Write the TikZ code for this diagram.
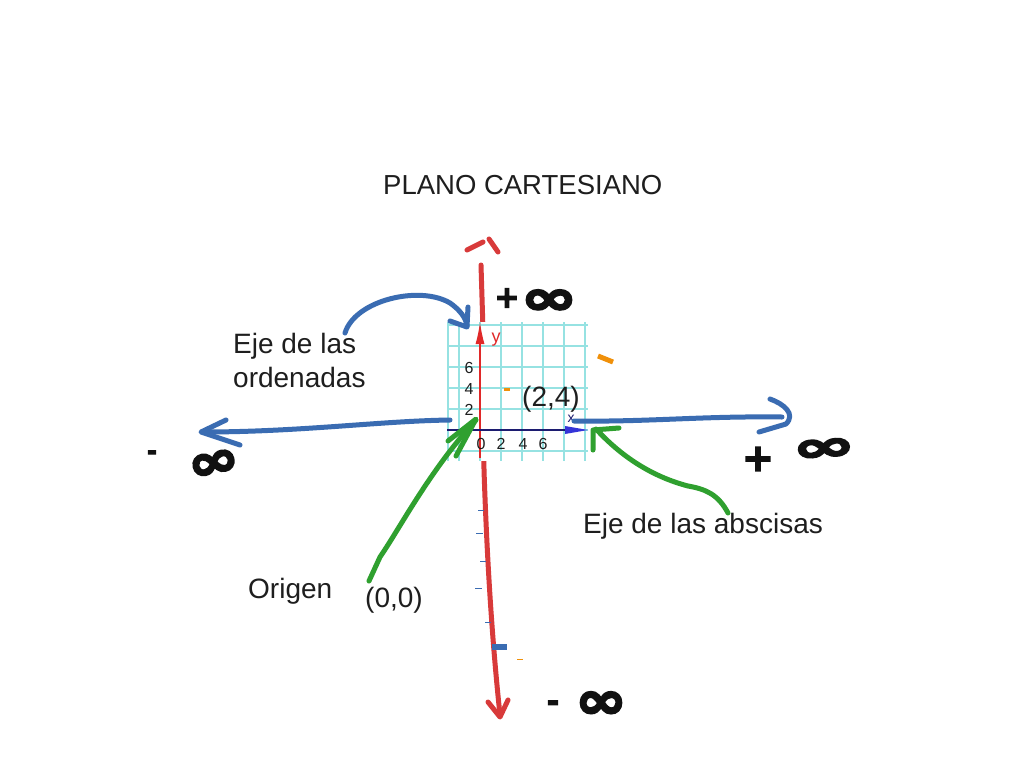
\documentclass[tikz,border=0pt]{standalone}
\usepackage{fontspec}
\setmainfont{Liberation Sans}
\newfontfamily\djv[FakeBold=4]{DejaVu Sans Bold}
\usetikzlibrary{arrows.meta}
\definecolor{penred}{HTML}{D83A3A}
\definecolor{penblue}{HTML}{3A6CB2}
\definecolor{pengreen}{HTML}{2FA02F}
\definecolor{penorange}{HTML}{F0900A}
\definecolor{gridcyan}{HTML}{96E2E2}
\definecolor{axred}{HTML}{E02828}
\definecolor{axnavy}{HTML}{1C1C70}
\definecolor{axblue}{HTML}{3434D8}
\definecolor{txt}{HTML}{1E1E1E}
\definecolor{ink}{HTML}{111111}
\tikzset{
  hand/.style={line width=5pt, line cap=round, line join=round},
  redpen/.style={hand, draw=penred},
  bluepen/.style={hand, draw=penblue},
  greenpen/.style={hand, draw=pengreen},
  label/.style={font=\fontsize{28}{31}\selectfont, text=txt, inner sep=0pt, anchor=base west},
  tick/.style={font=\fontsize{16}{18}\selectfont, text=txt, inner sep=0pt},
  inf/.style={font=\djv\fontsize{40}{42}\selectfont, text=ink, inner sep=0pt},
  sgn/.style={font=\djv\fontsize{30}{32}\selectfont, text=ink, inner sep=0pt},
}
\begin{document}
\begin{tikzpicture}[x=1pt,y=-1pt]
\useasboundingbox[fill=white] (0,0) rectangle (1024,768);

% title
\node[label, font=\fontsize{27.5}{30}\selectfont] (title) at (383,194) {PLANO CARTESIANO};

% main red vertical axis
\draw[redpen] (481,265) -- (483,330) -- (484,470) .. controls (487,560) and (492,640) .. (500,715);
\draw[redpen] (488,702) -- (500,717) -- (508,700);
\draw[redpen] (467,250) -- (483,242);
\draw[redpen] (489,239) -- (498,252);

% grid picture
\fill[white] (447,322) rectangle (588,461);
\foreach \gx in {448,459,480,501,522,543,564,585}
  \draw[gridcyan, line width=1.2pt] (\gx,322) -- (\gx,461);
\foreach \gy in {325,346,367,388,409,430,451}
  \draw[gridcyan, line width=1.2pt] (447,\gy) -- (588,\gy);
\coordinate (ybot) at (480,458);
\coordinate (ytop) at (480,322);
\draw[axred, line width=1.4pt, -{Latex[length=22pt,width=9pt]}] (ybot) -- (ytop);
\node[tick, text=axred, font=\fontsize{18}{18}\selectfont] (ylab) at (496,340) {y};
\coordinate (xl) at (447,430);
\coordinate (xr) at (588,430);
\draw[axnavy, line width=1.2pt] (xl) -- (572,430);
\fill[axblue] (565,426) -- (588,430) -- (565,434) -- cycle;
\node[tick, text=axnavy, font=\fontsize{14}{15}\selectfont] (xlab) at (571,419) {x};
\node[tick] (y6) at (469,368) {6};
\node[tick] (y4) at (469,389) {4};
\node[tick] (y2) at (469,410) {2};
\node[tick] (x0) at (481,444) {0};
\node[tick] (x2) at (501,444) {2};
\node[tick] (x4) at (523,444) {4};
\node[tick] (x6) at (543,444) {6};
\draw[penorange, line width=3pt] (504,389) -- (510,389);

% labels
\node[label] (ord1) at (233,353) {Eje de las};
\node[label] (ord2) at (233,387) {ordenadas};
\node[label] (pt) at (522,406) {(2,4)};
\node[label] (abs) at (583,533) {Eje de las abscisas};
\node[label] (orig) at (248,598) {Origen};
\node[label] (zero) at (365,607) {(0,0)};

% blue arrows
\draw[bluepen] (345,333) .. controls (355,300) and (420,285) .. (450,303) .. controls (460,310) and (466,318) .. (467,326);
\draw[bluepen] (450,321) -- (467,327) -- (468,307);
\draw[bluepen] (450,420) .. controls (380,421) and (300,432) .. (203,432);
\draw[bluepen] (226,420) -- (201,432) -- (240,445);
\draw[bluepen] (574,421) .. controls (650,422) and (700,416) .. (782,417);
\draw[bluepen] (770,399) .. controls (784,404) and (796,414) .. (786,424) -- (759,432);

% green arrows
\draw[greenpen] (728,513) .. controls (718,494) and (705,489) .. (688,486) .. controls (650,476) and (620,455) .. (596,429);
\draw[greenpen] (593,450) -- (593,430) -- (619,428);
\draw[greenpen] (369,581) -- (380,557) .. controls (400,528) and (430,470) .. (476,420);
\draw[greenpen] (448,441) -- (476,419) -- (456,456);

% lower ticks on red axis
\foreach \a/\b/\c in {478/484/510, 476/483/533, 480/486/561, 475/482/588, 485/491/622}
  \draw[penblue, line width=1pt] (\a,\c) -- (\b,\c);
\draw[penblue, line width=6pt] (492,647) -- (507,647);
\draw[penorange, line width=1pt] (517,659) -- (523,659);
\draw[penorange, line width=5pt] (598,356) -- (613,362);

% infinity labels
\node[sgn] (ptop) at (507,298) {+};
\node[inf] (itop) at (549,302) {\scalebox{1.7}[1.2]{∞}};
\node[sgn, font=\djv\fontsize{24}{26}\selectfont] (mleft) at (152,455) {-};
\node[inf, rotate=12] (ileft) at (214,465) {\scalebox{1.55}[1.25]{∞}};
\node[sgn, font=\djv\fontsize{38}{40}\selectfont] (pright) at (758,459) {+};
\node[inf, rotate=4] (iright) at (824,450) {\scalebox{1.9}[1.05]{∞}};
\node[sgn] (mbot) at (553,706) {-};
\node[inf] (ibot) at (601,705) {\scalebox{1.55}[1.3]{∞}};
\end{tikzpicture}
\end{document}
